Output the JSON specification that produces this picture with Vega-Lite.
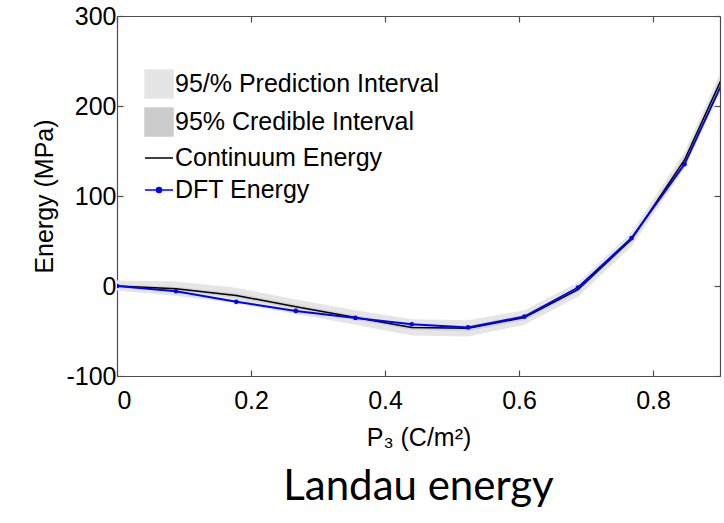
{
  "$schema": "https://vega.github.io/schema/vega-lite/v6.json",
  "width": 603,
  "height": 360,
  "autosize": {"type": "none"},
  "padding": {"left": 117, "top": 16, "right": 4, "bottom": 147},
  "background": "white",
  "config": {
    "font": "Liberation Sans",
    "view": {"stroke": null},
    "axis": {
      "labelFont": "Liberation Sans", "labelFontSize": 25, "labelColor": "black",
      "titleFont": "Liberation Sans", "titleFontSize": 25, "titleFontWeight": "normal", "titleColor": "black",
      "domainColor": "#4d4d4d", "tickColor": "#4d4d4d", "tickSize": -6, "grid": false,
      "domainWidth": 1.2, "tickWidth": 1.2
    },
    "legend": {
      "labelFont": "Liberation Sans", "labelFontSize": 25, "labelColor": "black", "labelLimit": 0,
      "symbolSize": 784, "symbolStrokeWidth": 1.5, "rowPadding": 4, "labelOffset": 1,
      "padding": 0, "symbolOpacity": 1
    }
  },
  "title": {"text": "Landau energy", "orient": "bottom", "font": "Lato", "fontSize": 42, "fontWeight": "normal", "color": "black", "offset": 17, "anchor": "middle"},
  "data": {"values": [
    {"x": 0, "dft": 0, "cont": 0, "pilo": -5, "pihi": 6, "cilo": -2, "cihi": 2},
    {"x": 0.088, "dft": -5.8, "cont": -3, "pilo": -11, "pihi": 5, "cilo": -5, "cihi": -1},
    {"x": 0.178, "dft": -17.6, "cont": -10.5, "pilo": -19, "pihi": -2, "cilo": -13, "cihi": -8},
    {"x": 0.267, "dft": -27.7, "cont": -23, "pilo": -31, "pihi": -15, "cilo": -25.5, "cihi": -20.5},
    {"x": 0.356, "dft": -35.5, "cont": -35, "pilo": -43, "pihi": -27, "cilo": -37.5, "cihi": -32.5},
    {"x": 0.44, "dft": -42.5, "cont": -46, "pilo": -55, "pihi": -37, "cilo": -49, "cihi": -43},
    {"x": 0.524, "dft": -46, "cont": -47, "pilo": -56, "pihi": -38, "cilo": -50, "cihi": -44},
    {"x": 0.608, "dft": -34, "cont": -35, "pilo": -43, "pihi": -27, "cilo": -38, "cihi": -32},
    {"x": 0.688, "dft": -1.7, "cont": -4, "pilo": -12, "pihi": 4, "cilo": -7, "cihi": -1},
    {"x": 0.768, "dft": 53.3, "cont": 52, "pilo": 44, "pihi": 60, "cilo": 49, "cihi": 55},
    {"x": 0.847, "dft": 135.4, "cont": 140, "pilo": 131, "pihi": 149, "cilo": 136, "cihi": 144},
    {"x": 0.93, "dft": 268, "cont": 275, "pilo": 265, "pihi": 285, "cilo": 271, "cihi": 279}
  ]},
  "layer": [
    {
      "encoding": {
        "x": {"field": "x", "type": "quantitative",
          "scale": {"domain": [0, 0.9], "nice": false, "zero": false},
          "axis": {"orient": "bottom", "values": [0, 0.2, 0.4, 0.6, 0.8],
            "labelExpr": "datum.value == 0 ? '0' : format(datum.value, '.1f')",
            "labelPadding": 18, "title": "P₃ (C/m²)", "titlePadding": 12}}
      },
      "layer": [
        {
          "mark": {"type": "area", "color": "#e5e5e5", "clip": true},
          "encoding": {
            "y": {"field": "pilo", "type": "quantitative",
              "scale": {"domain": [-100, 300], "nice": false, "zero": false},
              "axis": {"orient": "left", "values": [-100, 0, 100, 200, 300],
                "labelExpr": "'' + datum.value",
                "labelPadding": 7, "title": "Energy (MPa)", "titlePadding": 8}},
            "y2": {"field": "pihi"}
          }
        },
        {
          "mark": {"type": "area", "color": "#d2d2d2", "clip": true},
          "encoding": {
            "y": {"field": "cilo", "type": "quantitative"},
            "y2": {"field": "cihi"}
          }
        },
        {
          "mark": {"type": "line", "color": "black", "strokeWidth": 1.5, "clip": true},
          "encoding": {"y": {"field": "cont", "type": "quantitative"}}
        },
        {
          "mark": {"type": "line", "color": "#0000ff", "strokeWidth": 2, "clip": true,
            "point": {"filled": true, "size": 22, "color": "#0000ff"}},
          "encoding": {"y": {"field": "dft", "type": "quantitative"}}
        },
        {
          "data": {"values": []},
          "mark": {"type": "point", "filled": true},
          "encoding": {
            "fill": {"field": "series", "type": "nominal",
              "scale": {"domain": ["95/% Prediction Interval", "95% Credible Interval", "Continuum Energy", "DFT Energy"],
                "range": ["#e5e5e5", "#cccccc", "black", "#0000ff"]},
              "legend": {"title": null, "orient": "none", "legendX": 27, "legendY": 53}},
            "stroke": {"field": "series", "type": "nominal",
              "scale": {"domain": ["95/% Prediction Interval", "95% Credible Interval", "Continuum Energy", "DFT Energy"],
                "range": ["#e5e5e5", "#cccccc", "black", "#0000ff"]},
              "legend": {"title": null, "orient": "none", "legendX": 27, "legendY": 53}},
            "shape": {"field": "series", "type": "nominal",
              "scale": {"domain": ["95/% Prediction Interval", "95% Credible Interval", "Continuum Energy", "DFT Energy"],
                "range": ["square", "square", "stroke", "M-1,0H1M0.18,0A0.18,0.18,0,1,1,-0.18,0A0.18,0.18,0,1,1,0.18,0Z"]},
              "legend": {"title": null, "orient": "none", "legendX": 27, "legendY": 53}}
          }
        }
      ]
    },
    {
      "mark": {"type": "rule", "opacity": 0},
      "encoding": {
        "x": {"field": "x", "type": "quantitative",
          "scale": {"domain": [0, 0.9], "nice": false, "zero": false},
          "axis": {"orient": "top", "values": [0, 0.2, 0.4, 0.6, 0.8], "labels": false, "title": null}},
        "y": {"field": "dft", "type": "quantitative",
          "scale": {"domain": [-100, 300], "nice": false, "zero": false},
          "axis": {"orient": "right", "values": [-100, 0, 100, 200, 300], "labels": false, "title": null}}
      }
    }
  ],
  "resolve": {"scale": {"x": "independent", "y": "independent"}}
}
